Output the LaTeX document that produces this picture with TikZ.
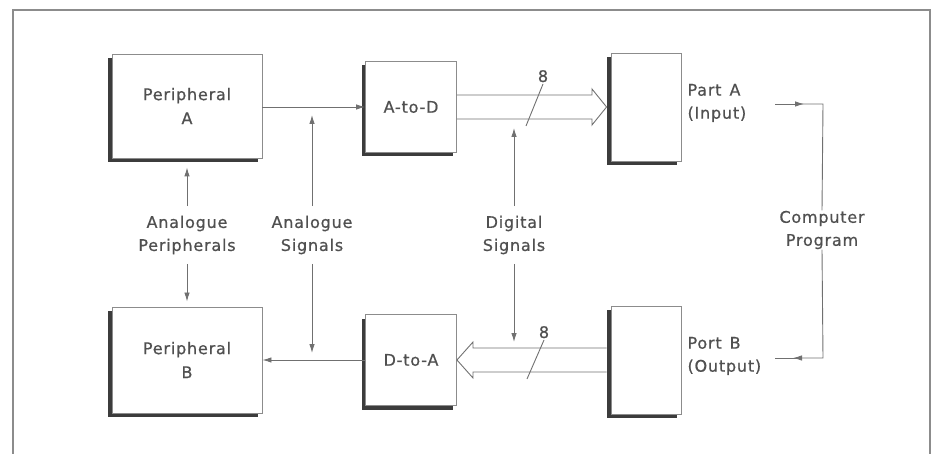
\documentclass[tikz,border=0pt]{standalone}
\usepackage{fontspec}
\setmainfont{DejaVu Sans}[LetterSpace=5, FakeBold=0.7]
\usetikzlibrary{arrows.meta, calc, shadows}
\definecolor{linie}{HTML}{707070}
\definecolor{rand}{HTML}{8C8C8C}
\definecolor{schatten}{HTML}{3C3C3C}
\definecolor{schrift}{HTML}{505050}

\tikzset{
  block/.style={draw=rand, fill=white, line width=0.9pt, text=schrift, align=center,
    font=\fontsize{16}{24}\selectfont,
    drop shadow={shadow xshift=-4pt, shadow yshift=-4pt, fill=schatten, opacity=1}},
  tag/.style={text=schrift, align=center, font=\fontsize{16}{23}\selectfont},
  flow/.style={draw=linie, line width=0.9pt, -{Latex[length=9pt,width=5.5pt]}},
  bus/.style={draw=linie, line width=0.9pt, line join=miter},
}

\begin{document}
\begin{tikzpicture}[x=1pt, y=-1pt]
      \useasboundingbox (0,0) rectangle (934,454);

      % --- Rahmen ---
      \draw[rand, line width=1.1pt] (13,454) -- (13,10) -- (930,10) -- (930,454);

      % --- Bloecke ---
      \node[block, minimum width=150pt, minimum height=104pt] (perA) at (187,106) {Peripheral\\A};
      \node[block, minimum width=91pt, minimum height=91pt] (atod) at (411,107) {A-to-D};
      \node[block, minimum width=70pt, minimum height=108pt] (portA) at (646,107) {};
      \node[block, minimum width=150pt, minimum height=106pt] (perB) at (187,360) {Peripheral\\B};
      \node[block, minimum width=91pt, minimum height=91pt] (dtoa) at (411,360) {D-to-A};
      \node[block, minimum width=70pt, minimum height=108pt] (portB) at (646,360) {};

      % --- Beschriftungen ---
      \node[tag, anchor=west, align=left] (labA) at (684,103) {Part\,\,\,A\\(Input)};
      \node[tag, anchor=west, align=left] (labB) at (684,356) {Port\,\,\,B\\(Output)};
      \node[tag] (anPer) at (187,235) {Analogue\\Peripherals};
      \node[tag] (anSig) at (312,235) {Analogue\\Signals};
      \node[tag] (digSig) at (514,235) {Digital\\Signals};
      \node[tag] (prog) at (822,230) {Computer\\Program};

      % --- analoge Verbindungen ---
      \draw[flow] (perA.east |- atod.west) -- (atod.west);
      \draw[flow] (dtoa.west) -- (perB.east |- dtoa.west);
      \draw[flow] (anPer.north) ++(0,-6) -- ([yshift=-9pt]perA.south);
      \draw[flow] (anPer.south) ++(0,6) -- ([yshift=5pt]perB.north);
      \draw[flow] (anSig.north) ++(0,-6) -- (312,115);
      \draw[flow] (anSig.south) ++(0,6) -- (312,353);

      % --- Datenbusse ---
      \coordinate (tipA) at ($(portA.west)+(-4,0)$);
      \coordinate (tipB) at (dtoa.east);
      \draw[bus] ($(atod.east)+(0,-12)$) -- (592,95) -- (592,89) -- (tipA)
        -- (592,125) -- (592,119) -- ($(atod.east)+(0,12)$);
      \draw[bus] ($(portB.west)+(-4,-12)$) -- (473,348) -- (473,342) -- (tipB)
        -- (473,378) -- (473,372) -- ($(portB.west)+(-4,12)$);
      \draw[bus] (543,84) -- (526,126) node[pos=0, above=-2pt, tag] (nA) {8};
      \draw[bus] (544,340) -- (527,379) node[pos=0, above=-2pt, tag] (nB) {8};
      \draw[flow] (digSig.north) ++(0,-6) -- (514,128);
      \draw[flow] (digSig.south) ++(0,6) -- (514,342);

      % --- Programm ---
      \coordinate (inA) at (775,104);
      \coordinate (outB) at (775,358);
      \draw[flow] (inA) -- (804,104);
      \draw[bus] (798,104) -- (823,104) -- ([yshift=-3pt]prog.north);
      \draw[flow] ([yshift=3pt]prog.south) -- (823,358) -- (793,358);
      \draw[bus] (798,358) -- (outB);
\end{tikzpicture}
\end{document}
